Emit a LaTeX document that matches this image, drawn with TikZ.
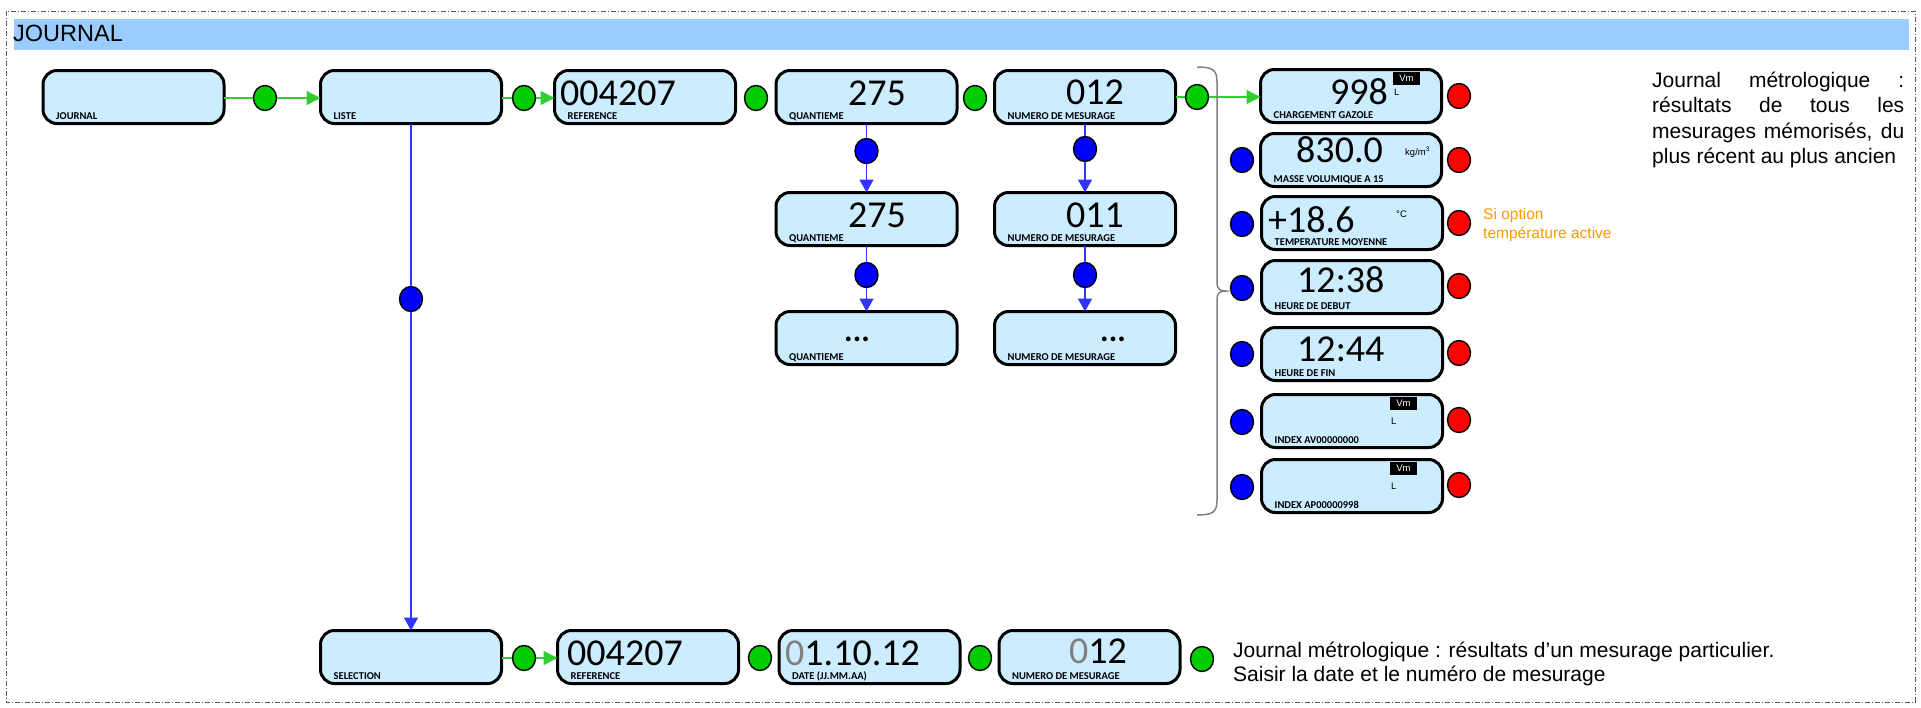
\documentclass[tikz,border=0pt]{standalone}
\usepackage{fontspec}
\setmainfont{Liberation Sans}
\newfontfamily\digf{Carlito}
\usetikzlibrary{arrows.meta,shapes.geometric,calc}
\definecolor{boxblue}{RGB}{204,236,255}
\definecolor{hdrblue}{RGB}{153,204,255}
\definecolor{dgreen}{RGB}{0,204,0}
\definecolor{lgreen}{RGB}{51,204,51}
\definecolor{dblue}{RGB}{0,0,255}
\definecolor{lblue}{RGB}{51,51,255}
\definecolor{dred}{RGB}{255,0,0}
\definecolor{orng}{RGB}{255,153,0}
\definecolor{framegray}{RGB}{90,90,90}
\definecolor{bracegray}{RGB}{128,128,128}
\newcommand\blabel[2]{\node[lbl] (#1lbl) at ([xshift=13pt,yshift=4.5pt]#1.south west) {#2};}
\tikzset{
  box/.style={draw=black, line width=3pt, rounded corners=14pt, fill=boxblue,
    minimum width=181pt, minimum height=53pt, inner sep=0pt, outer sep=0pt},
  dot/.style={ellipse, draw=black, line width=1.4pt, minimum width=23pt, minimum height=25pt, inner sep=0pt},
  gdot/.style={dot, fill=dgreen},
  bdot/.style={dot, fill=dblue},
  rdot/.style={dot, fill=dred},
  lbl/.style={font=\digf\bfseries\fontsize{10.5}{12}\selectfont, anchor=base west, inner sep=0pt},
  dig/.style={font=\digf\fontsize{38}{38}\selectfont, anchor=base west, inner sep=0pt},
  dotsty/.style={font=\digf\bfseries\fontsize{32}{32}\selectfont, anchor=base west, inner sep=0pt},
  unit/.style={font=\fontsize{9.5}{10}\selectfont, anchor=base west, inner sep=0pt},
  vm/.style={fill=black, text=white, font=\fontsize{9.5}{10}\selectfont, minimum width=27pt, minimum height=13pt, inner sep=0pt},
  gline/.style={draw=lgreen, line width=1.5pt},
  garrow/.style={gline, -{Triangle[length=14pt,width=14pt]}},
  bline/.style={draw=lblue, line width=1.5pt},
  barrow/.style={bline, -{Triangle[length=13pt,width=14pt]}},
  txt/.style={font=\fontsize{21}{25}\selectfont, anchor=base west, inner sep=0pt},
  otxt/.style={font=\fontsize{15.5}{18}\selectfont, text=orng, anchor=base west, inner sep=0pt},
  frame/.style={draw=framegray, line width=0.8pt, dash pattern=on 5pt off 2pt on 1pt off 2pt},
  bracesty/.style={draw=bracegray, line width=1.5pt}
}
\begin{document}
\begin{tikzpicture}[x=1pt,y=-1pt]
\useasboundingbox (0,0) rectangle (1921,707);
\draw[frame] (6,11) rectangle (1915,702);
\node[fill=hdrblue, minimum width=1895pt, minimum height=31pt, anchor=north west, inner sep=0pt] (hdr) at (14,19) {};
\node[font=\fontsize{23.5}{25}\selectfont, anchor=base west, inner sep=0pt] (title) at (13,41) {JOURNAL};

% row 1 boxes
\node[box] (journal) at (133.5,97) {};
\node[box] (liste) at (411,97) {};
\node[box] (ref1) at (645,97) {};
\node[box] (quant1) at (866.5,97) {};
\node[box] (num1) at (1085,97) {};
% right column
\node[box] (charg) at (1351,96) {};
\node[box] (masse) at (1351,160) {};
\node[box] (temp) at (1352,223) {};
\node[box] (hdeb) at (1352,287) {};
\node[box] (hfin) at (1352,354) {};
\node[box] (iav) at (1352,421) {};
\node[box] (iap) at (1352,486) {};
% middle columns
\node[box] (quant2) at (866.5,219) {};
\node[box] (quant3) at (866.5,338) {};
\node[box] (num2) at (1085,219) {};
\node[box] (num3) at (1085,338) {};
% bottom row
\node[box] (sel) at (411,657) {};
\node[box] (ref2) at (648,657) {};
\node[box] (date) at (869.5,657) {};
\node[box] (num4) at (1089.5,657) {};

% labels
\blabel{journal}{JOURNAL}
\blabel{liste}{LISTE}
\blabel{ref1}{REFERENCE}
\blabel{quant1}{QUANTIEME}
\blabel{num1}{NUMERO DE MESURAGE}
\blabel{charg}{CHARGEMENT GAZOLE}
\blabel{masse}{MASSE VOLUMIQUE A 15}
\blabel{temp}{TEMPERATURE MOYENNE}
\blabel{hdeb}{HEURE DE DEBUT}
\blabel{hfin}{HEURE DE FIN}
\blabel{iav}{INDEX AV00000000}
\blabel{iap}{INDEX AP00000998}
\blabel{quant2}{QUANTIEME}
\blabel{quant3}{QUANTIEME}
\blabel{num2}{NUMERO DE MESURAGE}
\blabel{num3}{NUMERO DE MESURAGE}
\blabel{sel}{SELECTION}
\blabel{ref2}{REFERENCE}
\blabel{date}{DATE (JJ.MM.AA)}
\blabel{num4}{NUMERO DE MESURAGE}

% digits
\node[dig] (dref1) at (560,105) {004207};
\node[dig] (dq1) at (848,105) {275};
\node[dig] (dn1) at (1066,104) {012};
\node[dig, anchor=base east] (dch) at (1388,104) {998};
\node[dig] (dma) at (1296,162) {830.0};
\node[dig] (dte) at (1268,232) {+18.6};
\node[dig] (dhd) at (1297,292) {12:38};
\node[dig] (dhf) at (1297,361) {12:44};
\node[dig] (dq2) at (848,227) {275};
\node[dig] (dn2) at (1066,227) {011};
\node[dotsty] (dq3) at (844,341) {...};
\node[dotsty] (dn3) at (1100,341) {...};
\node[dig] (dref2) at (567,665) {004207};
\node[dig] (ddate) at (785,665) {{\color{gray}0}1.10.12};
\node[dig] (dn4) at (1069,663) {{\color{gray}0}12};

% units
\node[vm] (vm1) at (1406.5,78.5) {Vm};
\node[unit] (l1) at (1394,95) {L};
\node[unit] (kg) at (1405,155) {kg/m\textsuperscript{3}};
\node[unit] (degc) at (1396,217) {°C};
\node[vm] (vm2) at (1403.5,403) {Vm};
\node[unit] (l2) at (1391,424) {L};
\node[vm] (vm3) at (1403.5,468) {Vm};
\node[unit] (l3) at (1391,489) {L};

% dots row 1
\node[gdot] (g1) at (265,98) {};
\node[gdot] (g2) at (524,98) {};
\node[gdot] (g3) at (756,98) {};
\node[gdot] (g4) at (975,98) {};
\node[gdot] (g5) at (1197,97) {};
% red dots
\node[rdot] (r1) at (1459,96) {};
\node[rdot] (r2) at (1459,160) {};
\node[rdot] (r3) at (1459,223) {};
\node[rdot] (r4) at (1459,286) {};
\node[rdot] (r5) at (1459,353) {};
\node[rdot] (r6) at (1459,420) {};
\node[rdot] (r7) at (1459,485) {};
% blue dots right column
\node[bdot] (b2) at (1242,160) {};
\node[bdot] (b3) at (1242,224) {};
\node[bdot] (b4) at (1242,288) {};
\node[bdot] (b5) at (1242,354) {};
\node[bdot] (b6) at (1242,422) {};
\node[bdot] (b7) at (1242,487) {};
% blue dots middle
\node[bdot] (bq1) at (866.5,151) {};
\node[bdot] (bq2) at (866.5,275) {};
\node[bdot] (bn1) at (1085,149) {};
\node[bdot] (bn2) at (1085,275) {};
\node[bdot] (bl) at (411,299) {};
% bottom green dots
\node[gdot] (bg1) at (524,658) {};
\node[gdot] (bg2) at (760,658) {};
\node[gdot] (bg3) at (980,658) {};
\node[gdot] (bg4) at (1202,659) {};

% connectors
\draw[gline] (journal.east |- g1) -- (g1.west);
\draw[garrow] (g1.east) -- (liste.west |- g1);
\draw[gline] (liste.east |- g2) -- (g2.west);
\draw[garrow] (g2.east) -- (ref1.west |- g2);
\draw[gline] (num1.east |- g5) -- (g5.west);
\draw[garrow] (g5.east) -- (charg.west |- g5);
\draw[gline] (sel.east |- bg1) -- (bg1.west);
\draw[garrow] (bg1.east) -- (ref2.west |- bg1);

\draw[bline] (quant1.south) -- (bq1.north);
\draw[barrow] (bq1.south) -- (quant2.north);
\draw[bline] (quant2.south) -- (bq2.north);
\draw[barrow] (bq2.south) -- (quant3.north);
\draw[bline] (num1.south) -- (bn1.north);
\draw[barrow] (bn1.south) -- (num2.north);
\draw[bline] (num2.south) -- (bn2.north);
\draw[barrow] (bn2.south) -- (num3.north);
\draw[bline] (liste.south) -- (bl.north);
\draw[barrow] (bl.south) -- (sel.north);

% brace
\draw[bracesty] (1197,67) .. controls (1213,67) and (1217,70) .. (1217,82)
  -- (1217,283) .. controls (1217,289) and (1220,291) .. (1226,291)
  .. controls (1220,291) and (1217,293) .. (1217,299)
  -- (1217,500) .. controls (1217,512) and (1213,515) .. (1197,515);

% texts
\node[txt] (tr1) at (1652,87) {\makebox[252pt][s]{Journal métrologique :}};
\node[txt] (tr2) at (1652,112.5) {\makebox[252pt][s]{résultats de tous les}};
\node[txt] (tr3) at (1652,138) {\makebox[252pt][s]{mesurages mémorisés, du}};
\node[txt] (tr4) at (1652,163.5) {plus récent au plus ancien};
\node[otxt] (o1) at (1483,219) {Si option};
\node[otxt] (o2) at (1483,238) {température active};
\node[txt] (bt1) at (1233,657) {Journal métrologique : résultats d’un mesurage particulier.};
\node[txt] (bt2) at (1233,681) {Saisir la date et le numéro de mesurage};
\end{tikzpicture}
\end{document}
